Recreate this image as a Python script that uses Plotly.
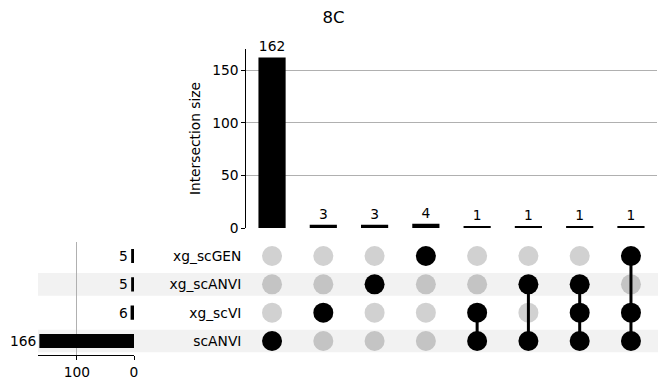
import plotly.graph_objects as go

W, H = 667, 391

# ---- data ----
set_names = ["scANVI", "xg_scVI", "xg_scANVI", "xg_scGEN"]   # bottom -> top
set_sizes = [166, 6, 5, 5]
intersection_sizes = [162, 3, 3, 4, 1, 1, 1, 1]
memberships = [
    ["scANVI"],
    ["xg_scVI"],
    ["xg_scANVI"],
    ["xg_scGEN"],
    ["scANVI", "xg_scVI"],
    ["scANVI", "xg_scANVI"],
    ["scANVI", "xg_scVI", "xg_scANVI"],
    ["scANVI", "xg_scVI", "xg_scGEN"],
]
shaded_sets = ["scANVI", "xg_scANVI"]
title = "8C"

FONT = "DejaVu Sans"
FS = 13.8

def px_x(p):
    return p / W

def px_y(p):
    return 1 - p / H

cols = list(range(len(intersection_sizes)))
rows = {s: i for i, s in enumerate(set_names)}

fig = go.Figure()

# intersection bars
fig.add_trace(go.Bar(
    x=cols, y=intersection_sizes, width=0.53,
    marker=dict(color="black", line=dict(width=0)),
    text=[str(v) for v in intersection_sizes], textposition="outside",
    textfont=dict(family=FONT, size=FS, color="black"),
    cliponaxis=False, xaxis="x", yaxis="y", showlegend=False, hoverinfo="skip",
))

# matrix inactive dots
ix, iy, ic = [], [], []
for c, mem in enumerate(memberships):
    for s in set_names:
        if s not in mem:
            ix.append(c)
            iy.append(rows[s])
            ic.append("#c4c4c4" if s in shaded_sets else "#d1d1d1")
fig.add_trace(go.Scatter(
    x=ix, y=iy, mode="markers",
    marker=dict(size=20, color=ic, line=dict(width=0)),
    xaxis="x2", yaxis="y2", showlegend=False, hoverinfo="skip",
))

# connecting lines
lx, ly = [], []
for c, mem in enumerate(memberships):
    if len(mem) > 1:
        ys = [rows[s] for s in mem]
        lx += [c, c, None]
        ly += [min(ys), max(ys), None]
fig.add_trace(go.Scatter(
    x=lx, y=ly, mode="lines", line=dict(color="black", width=3),
    xaxis="x2", yaxis="y2", showlegend=False, hoverinfo="skip",
))

# active dots
ax_, ay_ = [], []
for c, mem in enumerate(memberships):
    for s in mem:
        ax_.append(c)
        ay_.append(rows[s])
fig.add_trace(go.Scatter(
    x=ax_, y=ay_, mode="markers",
    marker=dict(size=20, color="black", line=dict(width=0)),
    xaxis="x2", yaxis="y2", showlegend=False, hoverinfo="skip",
))

# set size bars
fig.add_trace(go.Bar(
    x=set_sizes, y=list(range(len(set_names))), orientation="h", width=0.5,
    marker=dict(color="black", line=dict(width=0)),
    xaxis="x3", yaxis="y3", showlegend=False, hoverinfo="skip",
))
annotations = []
for i, v in enumerate(set_sizes):
    annotations.append(dict(
        x=v, y=i, xref="x3", yref="y3", text=str(v), showarrow=False,
        xanchor="right", yanchor="middle", xshift=-1,
        font=dict(family=FONT, size=FS, color="black"),
    ))

# row shading
shapes = []
for s in shaded_sets:
    r = rows[s]
    shapes.append(dict(
        type="rect", xref="paper", yref="y2",
        x0=px_x(38), x1=px_x(658), y0=r - 0.4, y1=r + 0.4,
        fillcolor="#f2f2f2", line=dict(width=0), layer="below",
    ))

xdom = [px_x(246.4), px_x(656.6)]
rowdom = [px_y(355.2), px_y(241.8)]

fig.update_layout(
    width=W, height=H,
    margin=dict(l=0, r=0, t=0, b=0, pad=0, autoexpand=False),
    paper_bgcolor="white", plot_bgcolor="rgba(0,0,0,0)",
    font=dict(family=FONT, size=FS, color="black"),
    shapes=shapes, annotations=annotations,
    title=dict(text=title, x=0.5, xanchor="center", y=px_y(17.5), yanchor="middle",
               font=dict(family=FONT, size=16.5, color="black")),
    xaxis=dict(domain=xdom, range=[-0.5, 7.5], showticklabels=False, showgrid=False,
               zeroline=False, showline=False, ticks=""),
    yaxis=dict(domain=[px_y(228), px_y(49)], range=[0, 170], tickvals=[0, 50, 100, 150],
               showline=True, linecolor="black", linewidth=1, ticks="outside",
               ticklen=4, tickcolor="black", showgrid=True, gridcolor="#b0b0b0",
               gridwidth=1, zeroline=False,
               title=dict(text="Intersection size", standoff=8,
                          font=dict(family=FONT, size=FS))),
    xaxis2=dict(domain=xdom, range=[-0.5, 7.5], showticklabels=False, showgrid=False,
                zeroline=False, showline=False, ticks="", anchor="y2"),
    yaxis2=dict(domain=rowdom, range=[-0.5, 3.5], tickvals=list(range(len(set_names))),
                ticktext=set_names, showgrid=False, zeroline=False, showline=False,
                ticks="", anchor="x2", ticklabelstandoff=4),
    xaxis3=dict(domain=[px_x(38), px_x(134)], range=[168.4, 0], tickvals=[0, 100],
                showline=True, linecolor="black", linewidth=1, ticks="outside",
                ticklen=4, tickcolor="black", showgrid=True, gridcolor="#b0b0b0",
                zeroline=False, anchor="y3", layer="above traces"),
    yaxis3=dict(domain=rowdom, range=[-0.5, 3.5], showticklabels=False, showgrid=False,
                zeroline=False, showline=False, ticks="", anchor="x3"),
)

fig.write_html("out.html", config={"displayModeBar": False},
               post_script="document.body.style.margin='0px';")
